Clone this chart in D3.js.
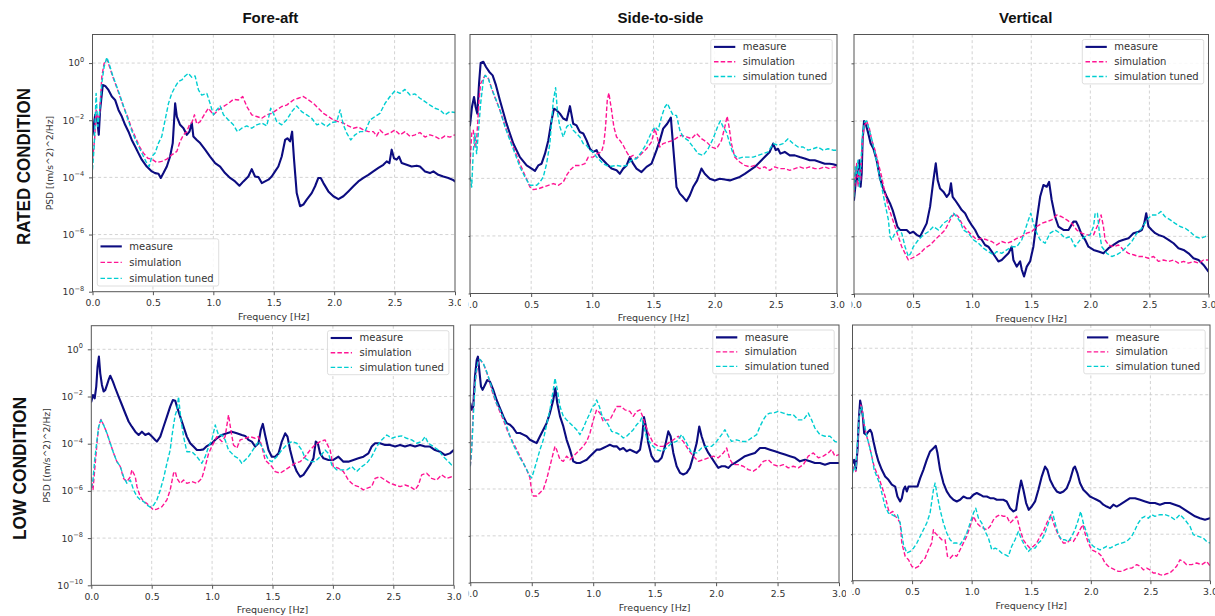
<!DOCTYPE html>
<html><head><meta charset="utf-8">
<script src="https://cdn.jsdelivr.net/npm/d3@7"></script>
<style>html,body{margin:0;padding:0;background:#fff;} svg{display:block;}</style>
</head><body><svg id="chart" width="1215" height="616"></svg>
<script>
// ---------- labels & ticks ----------
const directions = ["Fore-aft", "Side-to-side", "Vertical"];
const conditions = ["RATED CONDITION", "LOW CONDITION"];
const seriesNames = ["measure", "simulation", "simulation tuned"];
const freqTicks = [0, 0.5, 1.0, 1.5, 2.0, 2.5, 3.0];
const ratedYTickExponents = [0, -2, -4, -6, -8];
const lowYTickExponents = [0, -2, -4, -6, -8, -10];
const xLabel = "Frequency [Hz]";
const yLabel = "PSD [(m/s^2)^2/Hz]";

// ---------- data: [frequency Hz, log10 PSD] ----------
const ratedForeAftMeasure = [[0,-2.51],[.022,-1.81],[.036,-1.87],[.052,-2.51],[.063,-1.64],[.085,-0.77],[.105,-0.80],[.132,-0.94],[.160,-1.17],[.187,-1.29],[.215,-1.64],[.243,-1.87],[.270,-2.16],[.298,-2.40],[.325,-2.69],[.353,-2.92],[.380,-3.15],[.408,-3.38],[.449,-3.62],[.491,-3.79],[.518,-3.85],[.546,-3.87],[.565,-4.02],[.587,-3.85],[.615,-3.62],[.642,-3.27],[.664,-2.80],[.684,-1.41],[.698,-1.87],[.725,-2.16],[.753,-2.28],[.780,-2.51],[.802,-2.40],[.822,-2.10],[.835,-2.57],[.863,-2.69],[.891,-2.80],[.932,-3.03],[.973,-3.27],[1.015,-3.50],[1.056,-3.62],[1.097,-3.85],[1.139,-4.02],[1.180,-4.14],[1.216,-4.29],[1.249,-4.14],[1.290,-3.97],[1.318,-3.71],[1.345,-3.97],[1.373,-3.99],[1.401,-4.20],[1.428,-4.14],[1.456,-4.08],[1.483,-3.97],[1.511,-3.79],[1.538,-3.62],[1.566,-3.27],[1.594,-2.69],[1.613,-2.63],[1.635,-2.74],[1.652,-2.40],[1.668,-3.38],[1.690,-4.55],[1.718,-5.01],[1.745,-4.95],[1.773,-4.78],[1.814,-4.55],[1.842,-4.31],[1.869,-4.02],[1.889,-4.02],[1.911,-4.20],[1.952,-4.49],[1.993,-4.66],[2.035,-4.76],[2.076,-4.66],[2.117,-4.49],[2.159,-4.31],[2.200,-4.14],[2.242,-4.02],[2.283,-3.91],[2.324,-3.79],[2.366,-3.67],[2.407,-3.56],[2.435,-3.44],[2.457,-3.50],[2.476,-3.03],[2.495,-3.33],[2.517,-3.38],[2.537,-3.27],[2.559,-3.50],[2.600,-3.56],[2.641,-3.62],[2.683,-3.59],[2.710,-3.62],[2.752,-3.79],[2.793,-3.85],[2.821,-3.79],[2.862,-3.91],[2.903,-3.97],[2.945,-4.02],[2.980,-4.08],[3.0,-4.14]];
const ratedForeAftSimulation = [[0,-3.38],[.017,-2.69],[.030,-1.64],[.044,-1.99],[.058,-1.81],[.077,-0.48],[.096,-0.01],[.119,0.13],[.141,-0.13],[.168,-0.48],[.196,-0.80],[.223,-1.12],[.256,-1.52],[.290,-1.87],[.323,-2.28],[.353,-2.57],[.389,-2.92],[.422,-3.15],[.458,-3.33],[.491,-3.36],[.532,-3.48],[.573,-3.44],[.615,-3.36],[.656,-3.21],[.698,-3.09],[.725,-2.74],[.753,-2.51],[.780,-2.40],[.802,-2.16],[.822,-2.08],[.844,-1.81],[.863,-2.13],[.891,-2.05],[.924,-1.81],[.959,-1.58],[1.001,-1.81],[1.042,-1.64],[1.084,-1.52],[1.125,-1.41],[1.166,-1.27],[1.208,-1.29],[1.243,-1.17],[1.277,-1.52],[1.318,-1.81],[1.359,-1.87],[1.401,-1.93],[1.442,-1.81],[1.483,-1.76],[1.525,-1.64],[1.566,-1.52],[1.607,-1.47],[1.663,-1.29],[1.704,-1.23],[1.745,-1.17],[1.787,-1.29],[1.828,-1.41],[1.869,-1.58],[1.911,-1.76],[1.952,-1.87],[1.993,-1.99],[2.035,-2.05],[2.076,-2.10],[2.117,-2.20],[2.159,-2.28],[2.200,-2.24],[2.242,-2.34],[2.283,-2.40],[2.324,-2.40],[2.352,-2.55],[2.379,-2.34],[2.421,-2.51],[2.462,-2.45],[2.503,-2.34],[2.545,-2.51],[2.586,-2.40],[2.628,-2.57],[2.669,-2.51],[2.710,-2.43],[2.752,-2.59],[2.793,-2.51],[2.834,-2.57],[2.876,-2.66],[2.917,-2.55],[2.958,-2.59],[3.0,-2.51]];
const ratedForeAftTuned = [[0,-3.73],[.014,-2.92],[.030,-1.06],[.044,-2.22],[.058,-1.76],[.077,-0.71],[.096,-0.13],[.119,0.20],[.141,-0.07],[.168,-0.45],[.196,-0.77],[.223,-1.08],[.256,-1.50],[.290,-1.93],[.323,-2.34],[.353,-2.66],[.389,-2.98],[.422,-3.27],[.449,-3.50],[.469,-3.62],[.491,-3.27],[.518,-3.15],[.546,-2.80],[.573,-2.57],[.601,-1.99],[.629,-1.41],[.656,-1.06],[.684,-0.83],[.711,-0.65],[.739,-0.59],[.766,-0.45],[.794,-0.36],[.822,-0.50],[.849,-0.45],[.877,-0.94],[.904,-1.12],[.946,-1.06],[.973,-1.41],[1.001,-1.81],[1.028,-1.64],[1.056,-1.50],[1.084,-1.81],[1.125,-1.99],[1.166,-2.16],[1.199,-2.40],[1.235,-2.28],[1.277,-2.20],[1.318,-2.28],[1.359,-2.16],[1.401,-2.10],[1.442,-2.20],[1.475,-1.58],[1.497,-1.76],[1.525,-2.05],[1.566,-2.16],[1.607,-1.99],[1.649,-1.70],[1.690,-1.50],[1.731,-1.70],[1.773,-1.81],[1.814,-1.93],[1.856,-2.16],[1.897,-2.10],[1.938,-2.22],[1.980,-2.08],[2.021,-2.05],[2.049,-1.64],[2.076,-2.16],[2.104,-2.45],[2.137,-2.69],[2.173,-2.51],[2.214,-2.40],[2.255,-2.40],[2.297,-1.99],[2.338,-1.87],[2.379,-1.76],[2.421,-1.41],[2.462,-1.17],[2.503,-0.97],[2.545,-1.06],[2.586,-0.92],[2.628,-1.12],[2.669,-1.08],[2.710,-1.23],[2.752,-1.35],[2.793,-1.47],[2.834,-1.58],[2.876,-1.64],[2.917,-1.81],[2.958,-1.70],[3.0,-1.73]];

const ratedSideMeasure = [[0,-2.16],[.016,-1.52],[.033,-1.17],[.046,-1.52],[.060,-1.75],[.074,-0.70],[.087,0.01],[.109,0.05],[.131,-0.13],[.158,-0.30],[.185,-0.42],[.212,-0.76],[.245,-1.29],[.299,-2.10],[.354,-2.79],[.408,-3.26],[.463,-3.55],[.504,-3.66],[.531,-3.74],[.558,-3.55],[.585,-3.49],[.613,-3.14],[.640,-2.68],[.667,-1.98],[.686,-1.58],[.708,-1.63],[.735,-1.75],[.762,-1.92],[.790,-1.98],[.817,-1.49],[.844,-2.10],[.871,-2.16],[.898,-2.39],[.926,-2.44],[.953,-2.68],[.980,-2.97],[1.007,-3.08],[1.035,-3.02],[1.062,-3.26],[1.089,-3.37],[1.116,-3.49],[1.157,-3.66],[1.198,-3.72],[1.225,-3.84],[1.252,-3.66],[1.280,-3.55],[1.307,-3.26],[1.334,-3.49],[1.361,-3.66],[1.402,-3.78],[1.443,-3.60],[1.484,-3.49],[1.525,-3.02],[1.552,-2.68],[1.579,-2.27],[1.612,-2.10],[1.642,-1.89],[1.661,-2.91],[1.688,-4.30],[1.715,-4.53],[1.742,-4.65],[1.770,-4.79],[1.797,-4.59],[1.824,-4.30],[1.857,-4.07],[1.892,-3.66],[1.919,-3.84],[1.960,-4.01],[2.001,-4.07],[2.042,-4.01],[2.083,-4.04],[2.124,-4.07],[2.164,-4.01],[2.205,-3.95],[2.246,-3.84],[2.287,-3.72],[2.328,-3.60],[2.369,-3.43],[2.409,-3.26],[2.450,-3.08],[2.478,-2.79],[2.499,-3.02],[2.518,-2.97],[2.537,-3.14],[2.573,-3.08],[2.614,-3.20],[2.655,-3.20],[2.695,-3.26],[2.736,-3.31],[2.777,-3.37],[2.818,-3.37],[2.859,-3.43],[2.900,-3.49],[2.940,-3.49],[2.968,-3.51],[3.0,-3.55]];
const ratedSideSimulation = [[0,-3.49],[.014,-2.44],[.027,-2.33],[.041,-2.91],[.054,-2.68],[.074,-1.29],[.087,-0.71],[.123,-0.42],[.150,-0.53],[.191,-1.05],[.245,-1.63],[.299,-2.33],[.354,-2.91],[.408,-3.49],[.449,-3.89],[.490,-4.30],[.517,-4.39],[.558,-4.36],[.599,-4.30],[.640,-4.24],[.681,-4.18],[.721,-4.24],[.762,-4.13],[.790,-3.89],[.817,-3.72],[.858,-3.55],[.898,-3.55],[.939,-3.49],[.967,-3.26],[1.007,-3.26],[1.040,-3.14],[1.075,-3.08],[1.094,-2.79],[1.108,-2.21],[1.122,-1.29],[1.135,-1.03],[1.157,-1.63],[1.176,-2.21],[1.198,-2.56],[1.225,-2.68],[1.252,-2.85],[1.280,-3.08],[1.307,-3.26],[1.334,-3.20],[1.361,-3.31],[1.402,-3.14],[1.443,-2.97],[1.484,-2.73],[1.511,-2.27],[1.530,-2.56],[1.552,-2.91],[1.579,-2.79],[1.620,-2.73],[1.661,-2.68],[1.702,-2.56],[1.729,-2.50],[1.770,-2.56],[1.811,-2.62],[1.851,-2.44],[1.892,-2.62],[1.933,-2.73],[1.974,-2.91],[2.015,-2.97],[2.056,-2.68],[2.083,-2.21],[2.102,-1.84],[2.118,-2.21],[2.137,-2.79],[2.164,-3.26],[2.205,-3.43],[2.246,-3.55],[2.287,-3.60],[2.328,-3.55],[2.369,-3.66],[2.409,-3.60],[2.450,-3.72],[2.491,-3.60],[2.532,-3.66],[2.573,-3.66],[2.614,-3.72],[2.655,-3.66],[2.695,-3.60],[2.736,-3.66],[2.777,-3.60],[2.818,-3.66],[2.859,-3.66],[2.900,-3.60],[2.940,-3.66],[2.981,-3.60],[3.0,-3.66]];
const ratedSideTuned = [[0,-3.95],[.014,-4.30],[.027,-3.02],[.041,-2.44],[.054,-3.14],[.068,-2.44],[.087,-1.40],[.109,-0.59],[.123,-0.42],[.150,-0.53],[.177,-0.88],[.204,-1.17],[.245,-1.63],[.286,-2.21],[.327,-2.68],[.368,-3.14],[.408,-3.60],[.449,-3.95],[.490,-4.24],[.517,-4.24],[.545,-4.24],[.572,-4.13],[.599,-3.95],[.626,-3.49],[.653,-2.79],[.681,-1.29],[.700,-0.85],[.716,-1.75],[.735,-2.21],[.762,-2.56],[.790,-2.21],[.817,-2.10],[.844,-2.33],[.871,-2.44],[.898,-2.56],[.926,-2.79],[.953,-2.85],[.980,-3.02],[1.007,-3.08],[1.035,-3.26],[1.062,-3.37],[1.089,-3.49],[1.116,-3.55],[1.157,-3.58],[1.198,-3.55],[1.239,-3.58],[1.280,-3.55],[1.320,-3.37],[1.361,-3.31],[1.402,-3.08],[1.443,-2.79],[1.484,-2.39],[1.511,-2.21],[1.538,-2.33],[1.565,-1.87],[1.593,-1.52],[1.614,-1.40],[1.639,-1.63],[1.661,-1.81],[1.688,-1.81],[1.715,-2.33],[1.742,-2.56],[1.783,-2.68],[1.824,-2.91],[1.865,-3.14],[1.906,-3.20],[1.947,-2.97],[1.987,-2.62],[2.028,-2.16],[2.047,-2.00],[2.069,-2.21],[2.096,-2.39],[2.124,-2.79],[2.151,-3.14],[2.192,-3.31],[2.233,-3.26],[2.273,-3.26],[2.314,-3.26],[2.355,-3.20],[2.396,-3.14],[2.437,-3.08],[2.478,-2.79],[2.518,-2.85],[2.559,-2.79],[2.600,-2.62],[2.641,-2.79],[2.682,-2.91],[2.723,-2.91],[2.763,-3.02],[2.804,-2.97],[2.845,-2.91],[2.886,-3.02],[2.927,-2.97],[2.968,-3.02],[3.0,-3.02]];

const ratedVerticalMeasure = [[0,-4.74],[.011,-4.28],[.023,-3.59],[.034,-4.05],[.045,-3.36],[.056,-4.28],[.065,-3.82],[.073,-2.66],[.085,-2.00],[.102,-2.15],[.121,-2.43],[.141,-2.78],[.164,-2.95],[.192,-3.36],[.220,-3.99],[.248,-4.34],[.277,-4.63],[.305,-4.86],[.327,-5.09],[.347,-5.37],[.367,-5.66],[.389,-5.78],[.418,-5.78],[.446,-5.78],[.474,-5.89],[.502,-5.84],[.531,-5.95],[.559,-6.01],[.587,-5.78],[.615,-5.55],[.644,-4.97],[.672,-4.05],[.692,-3.47],[.708,-4.05],[.728,-4.34],[.756,-4.45],[.785,-4.63],[.807,-4.51],[.821,-4.16],[.835,-4.63],[.855,-4.74],[.883,-4.91],[.912,-5.09],[.940,-5.20],[.968,-5.43],[.996,-5.61],[1.025,-5.78],[1.053,-6.01],[1.081,-6.12],[1.109,-6.30],[1.137,-6.36],[1.166,-6.53],[1.194,-6.70],[1.222,-6.87],[1.250,-6.82],[1.279,-6.70],[1.307,-6.59],[1.335,-6.36],[1.349,-6.82],[1.377,-7.05],[1.406,-6.87],[1.420,-7.16],[1.439,-7.39],[1.462,-7.05],[1.490,-6.87],[1.518,-6.36],[1.547,-5.43],[1.575,-4.63],[1.603,-4.22],[1.631,-4.28],[1.651,-4.11],[1.673,-4.74],[1.702,-5.32],[1.730,-5.66],[1.773,-5.78],[1.815,-5.78],[1.857,-5.49],[1.880,-5.49],[1.900,-5.66],[1.928,-5.95],[1.956,-6.12],[1.984,-6.36],[2.027,-6.47],[2.069,-6.53],[2.111,-6.59],[2.154,-6.41],[2.196,-6.30],[2.238,-6.18],[2.281,-6.12],[2.323,-6.07],[2.365,-5.89],[2.408,-5.84],[2.436,-5.78],[2.456,-5.55],[2.473,-5.20],[2.492,-5.66],[2.520,-5.78],[2.549,-5.89],[2.577,-5.95],[2.619,-6.01],[2.662,-6.12],[2.704,-6.24],[2.746,-6.41],[2.789,-6.47],[2.831,-6.59],[2.873,-6.76],[2.916,-6.82],[2.958,-6.99],[3.0,-7.22]];
const ratedVerticalSimulation = [[0,-4.51],[.014,-3.93],[.023,-3.47],[.034,-4.28],[.045,-3.70],[.056,-4.05],[.068,-2.90],[.085,-2.20],[.107,-2.00],[.130,-2.26],[.150,-2.66],[.178,-3.01],[.206,-3.47],[.234,-3.93],[.262,-4.51],[.291,-4.97],[.319,-5.32],[.347,-5.66],[.375,-6.01],[.404,-6.36],[.432,-6.59],[.460,-6.82],[.488,-6.76],[.517,-6.70],[.559,-6.59],[.601,-6.41],[.644,-6.30],[.686,-6.12],[.728,-5.95],[.771,-5.78],[.799,-5.55],[.827,-5.32],[.855,-5.20],[.883,-5.32],[.912,-5.55],[.954,-5.78],[.996,-5.95],[1.039,-6.12],[1.081,-6.07],[1.123,-6.12],[1.166,-6.18],[1.208,-6.30],[1.250,-6.18],[1.293,-6.24],[1.335,-6.18],[1.377,-6.07],[1.420,-6.01],[1.462,-5.89],[1.504,-5.84],[1.547,-5.66],[1.589,-5.55],[1.631,-5.49],[1.673,-5.43],[1.716,-5.26],[1.758,-5.32],[1.801,-5.43],[1.843,-5.55],[1.885,-5.78],[1.928,-5.89],[1.970,-5.95],[2.027,-5.95],[2.069,-5.55],[2.091,-5.26],[2.111,-5.66],[2.125,-6.12],[2.154,-6.30],[2.196,-6.36],[2.238,-6.30],[2.281,-6.47],[2.323,-6.59],[2.365,-6.64],[2.408,-6.70],[2.450,-6.70],[2.492,-6.76],[2.535,-6.70],[2.577,-6.87],[2.619,-6.82],[2.662,-6.87],[2.704,-6.82],[2.746,-6.93],[2.789,-6.87],[2.831,-6.93],[2.873,-6.87],[2.916,-6.93],[2.958,-6.82],[3.0,-6.82]];
const ratedVerticalTuned = [[0,-4.63],[.011,-3.59],[.023,-3.82],[.034,-3.36],[.045,-4.28],[.056,-3.59],[.073,-2.43],[.090,-2.03],[.107,-2.00],[.130,-2.32],[.152,-2.66],[.178,-3.13],[.206,-3.70],[.234,-4.28],[.262,-4.86],[.291,-5.43],[.305,-6.01],[.319,-6.12],[.347,-5.89],[.375,-5.78],[.404,-5.89],[.432,-6.36],[.460,-6.70],[.480,-6.59],[.502,-6.36],[.545,-6.12],[.587,-5.95],[.629,-5.84],[.672,-5.66],[.714,-5.78],[.756,-5.55],[.799,-5.43],[.841,-5.20],[.869,-5.32],[.898,-5.49],[.926,-5.78],[.968,-5.89],[1.010,-6.12],[1.053,-6.24],[1.095,-6.41],[1.137,-6.53],[1.180,-6.64],[1.208,-6.53],[1.250,-6.59],[1.293,-6.47],[1.335,-6.36],[1.377,-6.36],[1.420,-6.12],[1.448,-5.78],[1.476,-5.43],[1.496,-5.20],[1.518,-5.55],[1.547,-5.89],[1.575,-6.12],[1.617,-6.24],[1.660,-5.89],[1.702,-5.78],[1.744,-5.89],[1.787,-6.07],[1.829,-6.01],[1.871,-6.36],[1.914,-6.12],[1.956,-6.01],[1.998,-5.95],[2.027,-5.66],[2.041,-5.20],[2.060,-5.20],[2.077,-5.89],[2.097,-6.36],[2.139,-6.59],[2.182,-6.70],[2.224,-6.64],[2.266,-6.53],[2.309,-6.36],[2.351,-6.18],[2.393,-5.89],[2.436,-5.72],[2.478,-5.43],[2.520,-5.26],[2.563,-5.26],[2.597,-5.14],[2.633,-5.32],[2.676,-5.43],[2.718,-5.55],[2.760,-5.66],[2.803,-5.72],[2.845,-5.84],[2.887,-6.01],[2.930,-6.07],[2.972,-6.01],[3.0,-5.95]];

const lowForeAftMeasure = [[0,-2.22],[.014,-1.94],[.028,-2.08],[.041,-1.58],[.052,-0.73],[.063,-0.31],[.074,-1.02],[.088,-1.51],[.102,-1.79],[.116,-1.72],[.130,-1.51],[.143,-1.30],[.157,-1.12],[.179,-1.37],[.199,-1.65],[.226,-2.01],[.254,-2.36],[.281,-2.71],[.309,-3.06],[.336,-3.28],[.364,-3.49],[.392,-3.63],[.419,-3.49],[.447,-3.63],[.474,-3.56],[.502,-3.70],[.529,-3.84],[.543,-3.91],[.571,-3.70],[.598,-3.28],[.626,-2.85],[.653,-2.43],[.675,-2.15],[.695,-2.18],[.709,-2.43],[.736,-2.85],[.764,-3.28],[.791,-3.70],[.819,-3.98],[.846,-4.12],[.874,-4.27],[.902,-4.27],[.929,-4.24],[.957,-4.10],[.998,-3.98],[1.039,-3.77],[1.081,-3.63],[1.122,-3.56],[1.163,-3.49],[1.205,-3.56],[1.246,-3.63],[1.274,-3.67],[1.301,-3.84],[1.329,-3.91],[1.356,-4.12],[1.384,-3.98],[1.403,-3.42],[1.420,-3.16],[1.439,-3.63],[1.467,-4.27],[1.494,-4.55],[1.522,-4.55],[1.550,-4.41],[1.577,-3.91],[1.605,-3.56],[1.624,-3.70],[1.646,-4.27],[1.674,-4.83],[1.701,-5.18],[1.729,-5.40],[1.756,-5.32],[1.784,-5.11],[1.811,-4.90],[1.839,-4.62],[1.858,-3.91],[1.875,-3.98],[1.894,-4.41],[1.922,-4.62],[1.963,-4.69],[2.004,-4.69],[2.046,-4.55],[2.087,-4.76],[2.128,-4.76],[2.170,-4.69],[2.211,-4.62],[2.253,-4.55],[2.294,-4.41],[2.321,-4.12],[2.349,-3.98],[2.390,-3.98],[2.432,-4.05],[2.473,-4.05],[2.515,-4.12],[2.556,-4.05],[2.597,-4.12],[2.639,-4.05],[2.680,-4.12],[2.721,-4.05],[2.763,-4.12],[2.804,-4.12],[2.845,-4.27],[2.887,-4.34],[2.928,-4.48],[2.969,-4.41],[3.0,-4.27]];
const lowForeAftSimulation = [[0,-5.40],[.014,-5.96],[.028,-5.11],[.047,-3.98],[.061,-3.28],[.080,-2.97],[.102,-3.21],[.130,-3.56],[.157,-3.98],[.185,-4.41],[.212,-4.76],[.240,-4.97],[.267,-5.47],[.295,-5.61],[.323,-5.40],[.336,-5.11],[.350,-5.25],[.364,-5.40],[.378,-5.82],[.405,-6.24],[.433,-6.45],[.460,-6.53],[.488,-6.67],[.516,-6.81],[.543,-6.77],[.585,-6.67],[.626,-6.38],[.653,-5.96],[.681,-5.25],[.695,-5.18],[.709,-5.47],[.736,-5.68],[.764,-5.54],[.791,-5.68],[.833,-5.61],[.874,-5.68],[.915,-5.47],[.943,-4.97],[.971,-4.41],[.998,-4.12],[1.039,-3.70],[1.081,-3.91],[1.108,-3.70],[1.136,-2.78],[1.155,-3.42],[1.177,-4.05],[1.205,-4.19],[1.232,-3.84],[1.274,-3.77],[1.315,-3.70],[1.356,-3.77],[1.384,-3.70],[1.412,-4.12],[1.439,-4.69],[1.467,-4.83],[1.494,-4.97],[1.522,-5.18],[1.563,-5.25],[1.605,-5.11],[1.646,-4.97],[1.687,-4.83],[1.729,-4.76],[1.770,-4.55],[1.811,-4.27],[1.853,-4.05],[1.894,-3.91],[1.935,-3.84],[1.977,-4.27],[2.004,-4.97],[2.046,-5.04],[2.087,-5.18],[2.128,-5.54],[2.170,-5.75],[2.211,-5.82],[2.253,-5.96],[2.280,-5.89],[2.321,-5.82],[2.349,-5.47],[2.390,-5.40],[2.432,-5.54],[2.473,-5.68],[2.515,-5.75],[2.556,-5.82],[2.597,-5.75],[2.639,-5.82],[2.680,-5.96],[2.708,-5.75],[2.735,-5.32],[2.776,-5.25],[2.818,-5.47],[2.859,-5.54],[2.900,-5.32],[2.942,-5.47],[2.983,-5.40],[3.0,-5.40]];
const lowForeAftTuned = [[0,-5.89],[.014,-5.54],[.028,-4.69],[.047,-3.84],[.061,-3.28],[.080,-2.99],[.102,-3.21],[.130,-3.56],[.157,-3.98],[.185,-4.41],[.212,-4.76],[.240,-4.97],[.267,-5.40],[.295,-5.68],[.323,-5.54],[.350,-5.96],[.378,-6.24],[.405,-6.38],[.433,-6.45],[.460,-6.60],[.488,-6.69],[.516,-6.60],[.543,-6.38],[.571,-5.96],[.598,-5.47],[.626,-4.83],[.653,-4.27],[.667,-3.70],[.681,-3.21],[.695,-2.78],[.709,-2.57],[.722,-2.01],[.742,-2.99],[.764,-3.70],[.791,-4.34],[.833,-4.34],[.874,-4.55],[.915,-4.83],[.943,-4.55],[.971,-4.12],[.998,-3.84],[1.026,-3.21],[1.053,-3.63],[1.081,-3.63],[1.108,-3.84],[1.136,-4.27],[1.163,-4.41],[1.191,-4.55],[1.219,-4.62],[1.246,-4.83],[1.274,-4.69],[1.301,-4.55],[1.329,-4.34],[1.356,-4.12],[1.384,-3.91],[1.412,-4.12],[1.439,-4.41],[1.467,-4.69],[1.494,-4.76],[1.536,-4.55],[1.577,-4.27],[1.618,-4.05],[1.660,-3.91],[1.701,-3.98],[1.743,-4.27],[1.770,-4.62],[1.811,-4.76],[1.853,-4.76],[1.894,-4.55],[1.935,-4.27],[1.963,-4.41],[1.991,-4.90],[2.032,-5.11],[2.073,-5.11],[2.115,-5.11],[2.156,-4.97],[2.197,-5.18],[2.239,-4.97],[2.280,-4.83],[2.321,-4.55],[2.363,-4.12],[2.404,-3.84],[2.446,-3.63],[2.487,-3.77],[2.528,-3.70],[2.570,-3.67],[2.611,-3.77],[2.652,-3.84],[2.694,-3.98],[2.735,-3.91],[2.763,-3.70],[2.790,-3.98],[2.832,-4.12],[2.873,-4.27],[2.914,-4.55],[2.956,-4.76],[2.983,-4.90],[3.0,-4.90]];

const lowSideMeasure = [[0,-2.34],[.011,-2.62],[.024,-2.48],[.038,-1.20],[.052,-0.50],[.062,-0.35],[.073,-0.92],[.087,-1.63],[.100,-1.77],[.119,-1.56],[.138,-1.35],[.160,-1.42],[.187,-1.77],[.214,-2.20],[.241,-2.55],[.269,-2.90],[.296,-3.19],[.323,-3.26],[.350,-3.40],[.377,-3.61],[.404,-3.61],[.431,-3.68],[.458,-3.75],[.485,-3.90],[.513,-3.97],[.540,-4.04],[.567,-3.75],[.594,-3.47],[.621,-3.19],[.648,-2.76],[.675,-2.20],[.692,-1.70],[.708,-2.34],[.730,-2.90],[.757,-3.33],[.784,-3.90],[.811,-4.32],[.838,-4.82],[.865,-4.89],[.892,-4.89],[.919,-4.82],[.947,-4.75],[.974,-4.60],[1.001,-4.46],[1.028,-4.32],[1.055,-4.32],[1.082,-4.25],[1.109,-4.18],[1.136,-4.11],[1.164,-4.18],[1.191,-4.18],[1.218,-4.32],[1.245,-4.25],[1.272,-4.39],[1.299,-4.32],[1.326,-4.39],[1.353,-4.46],[1.381,-4.32],[1.399,-3.75],[1.413,-2.93],[1.429,-3.33],[1.448,-4.04],[1.475,-4.60],[1.503,-4.82],[1.530,-4.82],[1.557,-4.67],[1.584,-4.18],[1.611,-3.54],[1.630,-3.75],[1.652,-4.46],[1.679,-5.03],[1.706,-5.31],[1.733,-5.38],[1.760,-5.31],[1.787,-5.10],[1.814,-4.60],[1.842,-4.04],[1.863,-3.33],[1.882,-3.75],[1.909,-4.18],[1.937,-4.46],[1.964,-4.67],[1.991,-4.89],[2.018,-5.10],[2.045,-5.03],[2.072,-5.03],[2.099,-5.10],[2.126,-4.96],[2.154,-4.89],[2.194,-4.75],[2.235,-4.60],[2.276,-4.53],[2.316,-4.46],[2.357,-4.25],[2.398,-4.25],[2.438,-4.32],[2.479,-4.39],[2.520,-4.46],[2.560,-4.53],[2.601,-4.60],[2.642,-4.67],[2.682,-4.82],[2.723,-4.75],[2.764,-4.82],[2.804,-4.89],[2.845,-4.89],[2.886,-4.96],[2.927,-4.89],[2.967,-4.89],[3.0,-4.89]];
const lowSideSimulation = [[0,-5.03],[.011,-4.32],[.024,-2.62],[.038,-1.49],[.057,-0.78],[.073,-0.47],[.084,-0.50],[.111,-0.71],[.146,-1.20],[.174,-1.77],[.201,-2.20],[.228,-2.55],[.269,-3.05],[.309,-3.61],[.350,-4.04],[.391,-4.46],[.431,-4.89],[.458,-5.17],[.485,-5.52],[.499,-6.09],[.513,-6.30],[.540,-6.30],[.567,-6.16],[.594,-6.02],[.621,-5.59],[.648,-5.03],[.675,-4.46],[.689,-4.18],[.702,-4.32],[.730,-4.75],[.757,-4.82],[.784,-4.60],[.811,-4.75],[.838,-4.60],[.865,-4.46],[.892,-4.32],[.919,-4.18],[.947,-3.97],[.974,-3.61],[1.001,-3.05],[1.028,-2.62],[1.055,-2.76],[1.082,-3.12],[1.109,-3.05],[1.136,-3.05],[1.164,-2.76],[1.191,-2.48],[1.226,-2.48],[1.258,-2.62],[1.299,-2.69],[1.326,-2.90],[1.353,-2.69],[1.381,-2.62],[1.402,-2.90],[1.421,-3.19],[1.448,-3.61],[1.489,-4.04],[1.530,-4.18],[1.570,-4.18],[1.611,-4.04],[1.652,-3.90],[1.692,-3.75],[1.733,-3.97],[1.774,-4.32],[1.814,-4.60],[1.855,-4.82],[1.896,-4.75],[1.937,-4.67],[1.977,-4.60],[2.018,-4.67],[2.059,-4.46],[2.086,-4.25],[2.113,-4.75],[2.140,-4.96],[2.181,-4.96],[2.221,-5.03],[2.262,-5.17],[2.303,-5.24],[2.343,-5.10],[2.384,-4.82],[2.425,-4.75],[2.465,-4.96],[2.506,-5.03],[2.547,-4.96],[2.587,-5.10],[2.628,-5.03],[2.669,-5.10],[2.710,-4.96],[2.750,-4.60],[2.791,-4.46],[2.832,-4.67],[2.872,-4.60],[2.913,-4.46],[2.940,-4.32],[2.967,-4.60],[3.0,-4.53]];
const lowSideTuned = [[0,-5.03],[.014,-4.04],[.030,-2.34],[.046,-1.06],[.065,-0.50],[.079,-0.47],[.106,-0.64],[.133,-0.99],[.160,-1.42],[.187,-1.91],[.214,-2.34],[.241,-2.62],[.269,-2.97],[.296,-3.33],[.323,-3.75],[.350,-4.11],[.377,-4.39],[.404,-4.67],[.431,-4.89],[.458,-5.17],[.485,-5.45],[.499,-5.52],[.513,-5.31],[.540,-4.82],[.567,-4.32],[.594,-3.90],[.621,-3.26],[.648,-2.62],[.675,-1.77],[.689,-1.27],[.708,-1.77],[.730,-2.48],[.757,-2.90],[.784,-3.05],[.811,-3.19],[.838,-3.33],[.865,-3.47],[.892,-3.68],[.919,-3.40],[.947,-3.05],[.974,-2.76],[.995,-2.48],[1.014,-2.41],[1.028,-2.20],[1.050,-2.48],[1.069,-2.83],[1.096,-3.05],[1.123,-3.26],[1.150,-3.54],[1.191,-3.61],[1.218,-3.68],[1.245,-3.82],[1.272,-3.75],[1.299,-3.61],[1.326,-3.47],[1.353,-3.26],[1.381,-3.12],[1.394,-2.97],[1.408,-3.26],[1.435,-3.82],[1.475,-4.11],[1.516,-4.32],[1.557,-4.39],[1.597,-4.25],[1.638,-4.04],[1.679,-3.97],[1.720,-3.68],[1.760,-4.04],[1.801,-4.46],[1.842,-4.46],[1.882,-4.25],[1.923,-4.18],[1.964,-4.18],[2.004,-3.97],[2.045,-3.68],[2.072,-3.47],[2.099,-3.75],[2.126,-3.97],[2.167,-3.90],[2.208,-3.97],[2.248,-3.97],[2.289,-3.82],[2.330,-3.68],[2.357,-3.33],[2.384,-3.05],[2.411,-2.83],[2.438,-2.76],[2.465,-2.76],[2.506,-2.69],[2.547,-2.76],[2.587,-2.83],[2.628,-2.83],[2.669,-3.05],[2.710,-3.05],[2.750,-2.76],[2.777,-3.05],[2.804,-3.40],[2.845,-3.68],[2.886,-3.75],[2.927,-3.75],[2.967,-3.97],[3.0,-4.04]];

const lowVerticalMeasure = [[0,-4.94],[.014,-4.80],[.028,-5.23],[.042,-4.37],[.053,-3.08],[.064,-2.25],[.075,-2.51],[.087,-2.94],[.098,-3.65],[.115,-3.72],[.134,-3.58],[.148,-3.51],[.162,-3.65],[.176,-4.01],[.198,-4.51],[.218,-4.87],[.246,-5.23],[.274,-5.52],[.302,-5.66],[.330,-5.87],[.358,-5.95],[.377,-6.38],[.400,-6.59],[.414,-6.45],[.428,-6.09],[.442,-5.95],[.456,-6.16],[.470,-5.95],[.498,-5.95],[.526,-5.95],[.545,-5.95],[.568,-5.59],[.595,-5.23],[.623,-4.80],[.651,-4.44],[.679,-4.30],[.699,-4.20],[.713,-4.51],[.735,-5.23],[.763,-5.80],[.791,-6.16],[.819,-6.38],[.847,-6.52],[.875,-6.59],[.903,-6.52],[.931,-6.38],[.959,-6.45],[.987,-6.45],[1.015,-6.30],[1.043,-6.23],[1.071,-6.30],[1.099,-6.38],[1.127,-6.38],[1.155,-6.45],[1.183,-6.45],[1.211,-6.52],[1.238,-6.52],[1.266,-6.52],[1.294,-6.59],[1.322,-6.88],[1.350,-7.02],[1.373,-6.95],[1.392,-6.30],[1.415,-5.69],[1.434,-6.09],[1.457,-6.66],[1.479,-6.95],[1.504,-6.81],[1.532,-6.59],[1.560,-6.09],[1.588,-5.52],[1.616,-5.09],[1.635,-5.23],[1.658,-5.66],[1.686,-5.95],[1.714,-6.16],[1.742,-6.23],[1.770,-6.16],[1.798,-6.02],[1.826,-5.66],[1.854,-5.16],[1.867,-5.09],[1.887,-5.37],[1.909,-5.80],[1.937,-6.09],[1.965,-6.23],[1.993,-6.38],[2.021,-6.45],[2.049,-6.52],[2.077,-6.59],[2.105,-6.73],[2.133,-6.81],[2.161,-6.88],[2.189,-6.73],[2.217,-6.81],[2.245,-6.73],[2.287,-6.59],[2.329,-6.45],[2.371,-6.45],[2.413,-6.52],[2.455,-6.59],[2.496,-6.66],[2.538,-6.66],[2.580,-6.73],[2.622,-6.66],[2.664,-6.66],[2.706,-6.73],[2.748,-6.81],[2.790,-6.95],[2.832,-7.09],[2.874,-7.23],[2.916,-7.31],[2.958,-7.38],[3.0,-7.31]];
const lowVerticalSimulation = [[0,-5.23],[.014,-5.09],[.028,-5.30],[.042,-4.37],[.056,-2.94],[.070,-2.44],[.081,-2.65],[.098,-3.30],[.120,-3.80],[.143,-4.23],[.162,-4.66],[.182,-5.09],[.204,-5.37],[.218,-5.52],[.246,-5.95],[.274,-6.38],[.302,-6.95],[.316,-7.09],[.338,-7.02],[.358,-7.23],[.377,-7.31],[.400,-7.52],[.414,-8.38],[.442,-8.95],[.470,-9.10],[.498,-9.38],[.526,-9.46],[.554,-9.38],[.581,-9.17],[.609,-9.03],[.637,-8.67],[.665,-8.38],[.679,-7.81],[.693,-7.95],[.721,-8.09],[.749,-8.24],[.777,-8.24],[.797,-8.95],[.819,-9.03],[.847,-8.88],[.875,-8.95],[.903,-8.67],[.931,-8.38],[.959,-8.09],[.987,-7.66],[1.015,-7.23],[1.043,-7.52],[1.071,-7.66],[1.099,-7.74],[1.127,-7.81],[1.155,-7.66],[1.183,-7.38],[1.211,-7.23],[1.238,-7.16],[1.266,-7.23],[1.294,-7.23],[1.322,-7.52],[1.350,-7.38],[1.378,-7.23],[1.406,-7.81],[1.434,-8.24],[1.462,-8.45],[1.490,-8.60],[1.518,-8.52],[1.546,-8.38],[1.574,-8.09],[1.602,-7.88],[1.630,-7.52],[1.666,-7.16],[1.686,-7.52],[1.714,-7.88],[1.742,-8.17],[1.770,-8.38],[1.798,-8.38],[1.826,-8.24],[1.854,-8.31],[1.881,-8.09],[1.909,-7.81],[1.932,-7.59],[1.951,-7.95],[1.979,-8.38],[2.007,-8.67],[2.035,-8.74],[2.063,-8.81],[2.091,-8.95],[2.119,-9.24],[2.147,-9.38],[2.175,-9.46],[2.203,-9.53],[2.231,-9.60],[2.259,-9.60],[2.287,-9.53],[2.315,-9.46],[2.343,-9.46],[2.385,-9.31],[2.413,-9.38],[2.441,-9.53],[2.469,-9.46],[2.496,-9.53],[2.524,-9.67],[2.552,-9.67],[2.580,-9.74],[2.608,-9.77],[2.636,-9.70],[2.664,-9.67],[2.692,-9.53],[2.720,-9.38],[2.748,-9.10],[2.776,-9.17],[2.804,-9.31],[2.846,-9.31],[2.888,-9.24],[2.930,-9.31],[2.972,-9.17],[3.0,-9.36]];
const lowVerticalTuned = [[0,-5.37],[.014,-5.09],[.028,-5.23],[.042,-4.08],[.056,-2.94],[.070,-2.51],[.081,-2.65],[.098,-3.22],[.120,-3.80],[.143,-4.23],[.162,-4.66],[.182,-5.23],[.204,-5.52],[.226,-5.80],[.246,-6.23],[.274,-6.81],[.302,-7.09],[.330,-7.16],[.358,-7.23],[.377,-7.16],[.400,-7.52],[.428,-8.45],[.456,-8.81],[.484,-8.74],[.512,-8.60],[.540,-8.38],[.568,-8.09],[.595,-7.81],[.623,-7.52],[.651,-7.09],[.679,-6.09],[.693,-5.80],[.713,-6.38],[.735,-6.95],[.763,-7.52],[.791,-7.95],[.819,-8.24],[.847,-8.38],[.875,-8.38],[.903,-8.45],[.931,-8.24],[.959,-7.95],[.987,-7.52],[1.015,-7.09],[1.034,-6.88],[1.057,-7.31],[1.085,-7.52],[1.113,-7.88],[1.141,-8.17],[1.169,-8.67],[1.197,-8.60],[1.224,-8.67],[1.252,-8.81],[1.280,-8.88],[1.308,-8.95],[1.336,-8.52],[1.364,-8.24],[1.392,-7.88],[1.420,-8.24],[1.448,-8.52],[1.476,-8.74],[1.504,-8.60],[1.532,-8.60],[1.560,-8.38],[1.588,-8.24],[1.616,-7.95],[1.644,-7.52],[1.677,-7.02],[1.700,-7.52],[1.728,-8.02],[1.756,-8.24],[1.784,-8.24],[1.812,-8.31],[1.840,-8.09],[1.867,-7.81],[1.895,-7.38],[1.915,-7.02],[1.937,-7.52],[1.965,-7.95],[1.993,-8.38],[2.021,-8.52],[2.049,-8.60],[2.077,-8.67],[2.105,-8.60],[2.133,-8.52],[2.161,-8.60],[2.189,-8.52],[2.217,-8.45],[2.259,-8.38],[2.301,-8.31],[2.343,-8.09],[2.371,-7.81],[2.398,-7.52],[2.427,-7.31],[2.455,-7.23],[2.483,-7.31],[2.510,-7.16],[2.538,-7.23],[2.580,-7.16],[2.622,-7.16],[2.664,-7.23],[2.706,-7.38],[2.748,-7.16],[2.790,-7.38],[2.832,-7.66],[2.860,-8.02],[2.902,-8.09],[2.944,-8.17],[2.972,-8.31],[3.0,-8.38]];

// ---------- layout (positions/styles only) ----------
const seriesStyle = [
  {color: "#0c0c80", width: 2.1, dash: null},
  {color: "#ff1493", width: 1.4, dash: "4.5,2.2"},
  {color: "#00ced1", width: 1.4, dash: "4.5,2.2"}
];
const panels = [
  {row:0,col:0,L:92.5,R:455,T:34.5,B:291.7,clip:[0,461],yt:ratedYTickExponents,labels:true,ylx:52.7,
   data:[ratedForeAftMeasure,ratedForeAftSimulation,ratedForeAftTuned],legend:{corner:"ll",rowH:16,pad:7.6}},
  {row:0,col:1,L:470,R:837,T:34.5,B:293.5,clip:[468.6,846],yt:ratedYTickExponents,labels:false,
   data:[ratedSideMeasure,ratedSideSimulation,ratedSideTuned],legend:{corner:"ur",rowH:14.8,pad:7.4}},
  {row:0,col:2,L:854,R:1208.5,T:34.5,B:294,clip:[851.5,1215],yt:ratedYTickExponents,labels:false,
   data:[ratedVerticalMeasure,ratedVerticalSimulation,ratedVerticalTuned],legend:{corner:"ur",rowH:14.8,pad:7.4}},
  {row:1,col:0,L:91.3,R:453.7,T:325.7,B:585.3,clip:[0,466],yt:lowYTickExponents,labels:true,ylx:49.7,
   data:[lowForeAftMeasure,lowForeAftSimulation,lowForeAftTuned],legend:{corner:"ur",rowH:14.7,pad:7.3}},
  {row:1,col:1,L:470.3,R:839,T:325,B:582.7,clip:[468.6,846],yt:lowYTickExponents,labels:false,
   data:[lowSideMeasure,lowSideSimulation,lowSideTuned],legend:{corner:"ur",rowH:14.5,pad:7.4}},
  {row:1,col:2,L:852.5,R:1210,T:325,B:580.7,clip:[851,1215],yt:lowYTickExponents,labels:false,
   data:[lowVerticalMeasure,lowVerticalSimulation,lowVerticalTuned],legend:{corner:"ur",rowH:14.5,pad:7.4}}
];
const rowClip = [[0,323],[323,616]];
const titlePos = [270.3, 660.5, 1025.7];
const rowLabelPos = [{x:30, y:166.5, len:157}, {x:25.5, y:468.5, len:143}];

const FONT = "'DejaVu Sans', sans-serif";
const svg = d3.select("#chart");
const defs = svg.append("defs");

// titles
directions.forEach((t,i) => {
  svg.append("text").attr("x", titlePos[i]).attr("y", 22.5).attr("text-anchor","middle")
    .attr("font-family","'Liberation Sans', Arial, sans-serif").attr("font-weight","bold")
    .attr("font-size", 15).attr("fill","#111").text(t);
});
conditions.forEach((t,i) => {
  const p = rowLabelPos[i];
  svg.append("text").attr("transform",`translate(${p.x},${p.y}) rotate(-90)`)
    .attr("text-anchor","middle").attr("font-family","'Liberation Sans', Arial, sans-serif")
    .attr("font-weight","bold").attr("font-size",18).attr("fill","#111")
    .attr("textLength", p.len).attr("lengthAdjust","spacingAndGlyphs").text(t);
});

panels.forEach((p, i) => {
  const cid = "colclip" + i, pid = "plotclip" + i;
  defs.append("clipPath").attr("id", cid).append("rect")
    .attr("x", p.clip[0]).attr("y", rowClip[p.row][0])
    .attr("width", p.clip[1] - p.clip[0]).attr("height", rowClip[p.row][1] - rowClip[p.row][0]);
  defs.append("clipPath").attr("id", pid).append("rect")
    .attr("x", p.L).attr("y", p.T).attr("width", p.R - p.L).attr("height", p.B - p.T);

  const g = svg.append("g").attr("clip-path", `url(#${cid})`);
  const x = d3.scaleLinear().domain([0, 3]).range([p.L, p.R]);
  const yMin = Math.pow(10, p.yt[p.yt.length - 1]);
  const y = d3.scaleLog().domain([yMin, 10]).range([p.B, p.T]);
  const yVals = p.yt.map(e => Math.pow(10, e));

  // grid
  const grid = g.append("g").attr("stroke", "#c8c8c8").attr("stroke-width", 0.8)
    .attr("stroke-dasharray", "3,2.6").attr("fill", "none");
  grid.selectAll("line.vx").data(freqTicks.slice(1, -1)).join("line")
    .attr("x1", d => x(d)).attr("x2", d => x(d)).attr("y1", p.T).attr("y2", p.B);
  grid.selectAll("line.hy").data(yVals.slice(0, -1)).join("line")
    .attr("x1", p.L).attr("x2", p.R).attr("y1", d => y(d)).attr("y2", d => y(d));

  // series
  const line = d3.line().x(d => x(d[0])).y(d => y(Math.pow(10, d[1])));
  const lg = g.append("g").attr("clip-path", `url(#${pid})`);
  p.data.forEach((ser, k) => {
    const st = seriesStyle[k];
    lg.append("path").datum(ser).attr("d", line).attr("fill", "none")
      .attr("stroke", st.color).attr("stroke-width", st.width)
      .attr("stroke-linejoin", "round").attr("stroke-linecap", k === 0 ? "round" : "butt")
      .attr("stroke-dasharray", st.dash);
  });

  // axes
  const xa = d3.axisBottom(x).tickValues(freqTicks).tickFormat(d3.format(".1f"))
    .tickSize(3.5).tickPadding(4.2);
  const xg = g.append("g").attr("transform", `translate(0,${p.B})`).call(xa);
  xg.select(".domain").remove();
  xg.selectAll("line").attr("stroke", "#555");
  xg.selectAll("text").attr("font-family", FONT).attr("font-size", 9.3).attr("fill", "#333");

  const ya = d3.axisLeft(y).tickValues(yVals).tickSize(3.5).tickFormat("");
  const yg = g.append("g").attr("transform", `translate(${p.L},0)`).call(ya);
  yg.select(".domain").remove();
  yg.selectAll("line").attr("stroke", "#555");

  if (p.labels) {
    const tl = g.append("g");
    p.yt.forEach(e => {
      const t = tl.append("text").attr("x", p.L - 8.3).attr("y", y(Math.pow(10, e)) + 3.4)
        .attr("text-anchor", "end").attr("font-family", FONT).attr("font-size", 9.3).attr("fill", "#333");
      t.append("tspan").text("10");
      t.append("tspan").attr("dy", -4.6).attr("font-size", 6.6).text(e < 0 ? "\u2212" + (-e) : String(e));
    });
    g.append("text").attr("transform", `translate(${p.ylx},${(p.T + p.B) / 2}) rotate(-90)`)
      .attr("text-anchor", "middle").attr("font-family", FONT).attr("font-size", 9.2)
      .attr("fill", "#333").text(yLabel);
  }

  g.append("text").attr("x", (p.L + p.R) / 2).attr("y", p.B + 27.8).attr("text-anchor", "middle")
    .attr("font-family", FONT).attr("font-size", 9.5).attr("fill", "#333").text(xLabel);

  // frame
  g.append("rect").attr("x", p.L).attr("y", p.T).attr("width", p.R - p.L).attr("height", p.B - p.T)
    .attr("fill", "none").attr("stroke", "#555").attr("stroke-width", 1);

  // legend
  const lgd = g.append("g");
  const box = lgd.append("rect").attr("rx", 2).attr("fill", "white").attr("fill-opacity", 0.85)
    .attr("stroke", "#d6d6d6").attr("stroke-width", 0.8);
  const items = lgd.append("g");
  const txts = [];
  seriesNames.forEach((n, k) => {
    const st = seriesStyle[k];
    const cy = p.legend.pad + k * p.legend.rowH;
    items.append("line").attr("x1", 3.2).attr("x2", 24.5).attr("y1", cy).attr("y2", cy)
      .attr("stroke", st.color).attr("stroke-width", st.width).attr("stroke-dasharray", st.dash);
    txts.push(items.append("text").attr("x", 32).attr("y", cy + 3.5).attr("font-family", FONT)
      .attr("font-size", 10).attr("fill", "#333").text(n));
  });
  const maxW = d3.max(txts, t => t.node().getComputedTextLength());
  const w = 32 + maxW + 5;
  const h = p.legend.pad * 2 + 2 * p.legend.rowH;
  box.attr("width", w).attr("height", h);
  let lx, ly;
  if (p.legend.corner === "ll") { lx = p.L + 4.8; ly = p.B - 5.7 - h; }
  else { lx = p.R - 4.8 - w; ly = p.T + 5; }
  lgd.attr("transform", `translate(${lx},${ly})`);
});
</script></body></html>
